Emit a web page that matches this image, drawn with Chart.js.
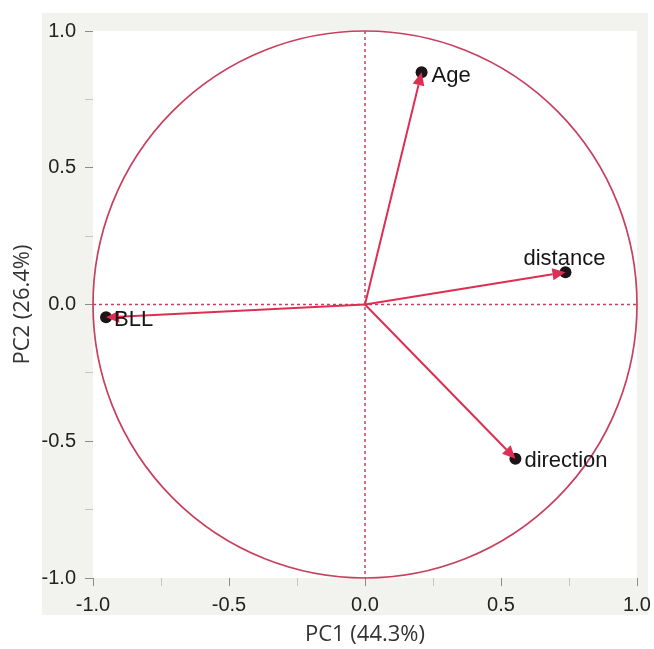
<!DOCTYPE html>
<html>
<head>
<meta charset="utf-8">
<script src="https://cdn.jsdelivr.net/npm/chart.js@4"></script>
<style>
  html, body { margin: 0; padding: 0; background: #ffffff; }
  #wrap { width: 654px; height: 649px; position: relative; }
</style>
</head>
<body>
<div id="wrap"><canvas id="pcaBiplot"></canvas></div>
<script>
// Variables and their loadings on PC1 / PC2
const variableNames = ['Age', 'distance', 'direction', 'BLL'];
const pc1Loadings = [0.208, 0.737, 0.553, -0.952];
const pc2Loadings = [0.849, 0.118, -0.564, -0.047];

// Axis ranges and tick step
const axisMin = -1.0;
const axisMax = 1.0;
const tickStep = 0.25;
const labelStep = 0.5;
const circleRadius = 1.0;

const xTitle = 'PC1 (44.3%)';
const yTitle = 'PC2 (26.4%)';

// Colours
const frameGrey = '#f2f3ee';
const circleColor = '#c8405f';
const arrowColor = '#dd2f52';
const dotColor = '#1c1417';

// Where each label sits relative to its point (style only)
const labelPlacement = {
    Age:       { align: 'left',   dx: 10, dy: 4 },
    distance:  { align: 'center', dx: -1, dy: -13 },
    direction: { align: 'left',   dx: 9,  dy: 2 },
    BLL:       { align: 'left',   dx: 8,  dy: 3 }
};

const isLabelTick = v => Math.abs(v / labelStep - Math.round(v / labelStep)) < 1e-9;

// Grey frame behind the axes, white plot area
const framePlugin = {
    id: 'frame',
    beforeDraw(chart) {
        const {ctx, chartArea: a, width, height} = chart;
        ctx.save();
        ctx.fillStyle = '#ffffff';
        ctx.fillRect(0, 0, width, height);
        ctx.fillStyle = frameGrey;
        ctx.fillRect(a.left - 51, a.top - 18, (a.right + 11) - (a.left - 51), (a.bottom + 37) - (a.top - 18));
        ctx.fillStyle = '#ffffff';
        ctx.fillRect(a.left, a.top, a.right - a.left, a.bottom - a.top);
        ctx.restore();
    }
};

// Unit circle and dotted zero lines
const circlePlugin = {
    id: 'corrCircle',
    beforeDatasetsDraw(chart) {
        const {ctx, chartArea: a} = chart;
        const xs = chart.scales.x, ys = chart.scales.y;
        const cx = xs.getPixelForValue(0), cy = ys.getPixelForValue(0);
        const rx = xs.getPixelForValue(circleRadius) - cx;
        const ry = cy - ys.getPixelForValue(circleRadius);
        ctx.save();
        ctx.strokeStyle = circleColor;
        ctx.lineWidth = 1.7;
        ctx.beginPath();
        ctx.ellipse(cx, cy, rx, ry, 0, 0, Math.PI * 2);
        ctx.stroke();
        // dotted axes
        ctx.setLineDash([3, 3]);
        ctx.lineWidth = 1.5;
        ctx.beginPath();
        ctx.moveTo(cx, a.top);
        ctx.lineTo(cx, a.bottom);
        ctx.moveTo(a.left, cy);
        ctx.lineTo(a.right, cy);
        ctx.stroke();
        ctx.restore();
    }
};

// Arrows from the origin to each loading, plus text labels
const arrowPlugin = {
    id: 'loadingArrows',
    afterDatasetsDraw(chart) {
        const {ctx} = chart;
        const xs = chart.scales.x, ys = chart.scales.y;
        const ox = xs.getPixelForValue(0), oy = ys.getPixelForValue(0);
        ctx.save();
        variableNames.forEach((name, i) => {
            const px = xs.getPixelForValue(pc1Loadings[i]);
            const py = ys.getPixelForValue(pc2Loadings[i]);
            const ang = Math.atan2(py - oy, px - ox);
            const headLen = 13, headW = 6;
            const bx = px - headLen * Math.cos(ang), by = py - headLen * Math.sin(ang);
            ctx.strokeStyle = arrowColor;
            ctx.fillStyle = arrowColor;
            ctx.lineWidth = 2;
            ctx.beginPath();
            ctx.moveTo(ox, oy);
            ctx.lineTo(bx, by);
            ctx.stroke();
            ctx.beginPath();
            ctx.moveTo(px, py);
            ctx.lineTo(bx + headW * Math.sin(ang), by - headW * Math.cos(ang));
            ctx.lineTo(bx - headW * Math.sin(ang), by + headW * Math.cos(ang));
            ctx.closePath();
            ctx.fill();

            const lp = labelPlacement[name];
            ctx.fillStyle = '#161616';
            ctx.font = '22px "Liberation Sans", Arial, sans-serif';
            ctx.textAlign = lp.align;
            ctx.textBaseline = 'middle';
            ctx.fillText(name, px + lp.dx, py + lp.dy);
        });
        ctx.restore();
    }
};

const tickFont = { family: '"Liberation Sans", Arial, sans-serif', size: 20 };
const titleFont = { family: '"Open Sans", sans-serif', size: 22 };

const axisCommon = {
    type: 'linear',
    min: axisMin,
    max: axisMax,
    border: { display: false },
    grid: {
        drawOnChartArea: false,
        drawTicks: true,
        tickLength: 8,
        tickWidth: 1,
        tickColor: ctx => isLabelTick(ctx.tick.value) ? '#8c8c8c' : '#c4c4c4'
    },
    ticks: {
        stepSize: tickStep,
        autoSkip: false,
        maxRotation: 0,
        color: '#222222',
        font: tickFont,
        callback: v => isLabelTick(v) ? v.toFixed(1) : ''
    }
};

const biplotConfig = {
    type: 'scatter',
    data: {
        datasets: [{
            label: 'loadings',
            data: variableNames.map((n, i) => ({ x: pc1Loadings[i], y: pc2Loadings[i] })),
            pointRadius: 6,
            pointHoverRadius: 6,
            pointBackgroundColor: dotColor,
            pointBorderColor: dotColor,
            pointBorderWidth: 0
        }]
    },
    options: {
        responsive: true,
        maintainAspectRatio: false,
        animation: false,
        layout: { padding: { left: 0, top: 31, right: 17, bottom: 0 } },
        plugins: {
            legend: { display: false },
            tooltip: { enabled: false }
        },
        scales: {
            x: {
                ...axisCommon,
                position: 'bottom',
                ticks: { ...axisCommon.ticks, padding: 7 },
                title: { display: true, text: xTitle, color: '#333333', font: titleFont, padding: { top: 0, bottom: 1 } },
                afterFit: scale => {
                    scale.height = 71;
                    scale.paddingLeft = 0;
                    scale.paddingRight = 0;
                }
            },
            y: {
                ...axisCommon,
                position: 'left',
                ticks: { ...axisCommon.ticks, padding: 9 },
                title: { display: true, text: yTitle, color: '#333333', font: titleFont, padding: { top: 10, bottom: 0 } },
                afterFit: scale => {
                    scale.width = 93;
                    scale.paddingTop = 0;
                    scale.paddingBottom = 0;
                }
            }
        }
    },
    plugins: [framePlugin, circlePlugin, arrowPlugin]
};

const biplotChart = new Chart(
    document.getElementById('pcaBiplot'),
    biplotConfig
);
</script>
</body>
</html>
